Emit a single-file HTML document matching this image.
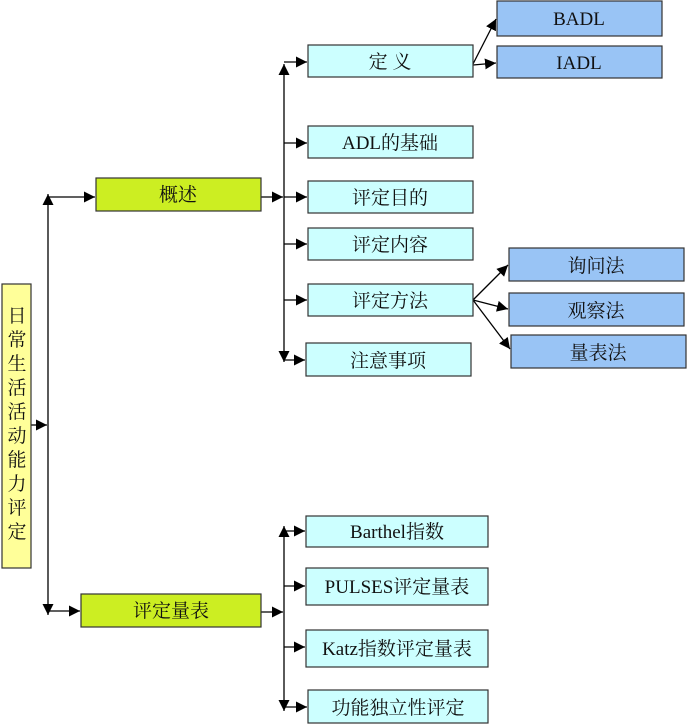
<!DOCTYPE html>
<html><head><meta charset="utf-8"><style>
html,body{margin:0;padding:0;background:#fff;}
svg{display:block;}
text{font-family:"Liberation Serif","Noto Serif CJK SC",serif;fill:#111;}
</style></head><body>
<svg width="687" height="725" viewBox="0 0 687 725" xmlns="http://www.w3.org/2000/svg">
<defs>
<marker id="a" viewBox="0 0 10 10" refX="10" refY="5" markerWidth="11" markerHeight="11" markerUnits="userSpaceOnUse" orient="auto"><path d="M0,0 L10,5 L0,10 z" fill="#000"/></marker>
</defs>
<g stroke="#000" stroke-width="1.3" fill="none">
<line x1="48" y1="425" x2="48" y2="194" marker-end="url(#a)"/>
<line x1="48" y1="425" x2="48" y2="615" marker-end="url(#a)"/>
<line x1="31" y1="425" x2="47" y2="425" marker-end="url(#a)"/>
<line x1="48" y1="197" x2="95" y2="197" marker-end="url(#a)"/>
<line x1="48" y1="611" x2="80" y2="611" marker-end="url(#a)"/>
<line x1="261" y1="197" x2="283" y2="197" marker-end="url(#a)"/>
<line x1="284" y1="197" x2="284" y2="64" marker-end="url(#a)"/>
<line x1="284" y1="197" x2="284" y2="362" marker-end="url(#a)"/>
<line x1="284" y1="62" x2="307" y2="62" marker-end="url(#a)"/>
<line x1="284" y1="143" x2="307" y2="143" marker-end="url(#a)"/>
<line x1="284" y1="197" x2="307" y2="197" marker-end="url(#a)"/>
<line x1="284" y1="244" x2="307" y2="244" marker-end="url(#a)"/>
<line x1="284" y1="300" x2="307" y2="300" marker-end="url(#a)"/>
<line x1="284" y1="360" x2="305" y2="360" marker-end="url(#a)"/>
<line x1="473" y1="64" x2="496" y2="19" marker-end="url(#a)"/>
<line x1="473" y1="65" x2="496" y2="63" marker-end="url(#a)"/>
<line x1="473" y1="300" x2="508" y2="265" marker-end="url(#a)"/>
<line x1="473" y1="300" x2="508" y2="309" marker-end="url(#a)"/>
<line x1="473" y1="300" x2="510" y2="349" marker-end="url(#a)"/>
<line x1="261" y1="612" x2="283" y2="612" marker-end="url(#a)"/>
<line x1="284" y1="612" x2="284" y2="526" marker-end="url(#a)"/>
<line x1="284" y1="612" x2="284" y2="711" marker-end="url(#a)"/>
<line x1="284" y1="531" x2="305" y2="531" marker-end="url(#a)"/>
<line x1="284" y1="586" x2="305" y2="586" marker-end="url(#a)"/>
<line x1="284" y1="647" x2="305" y2="647" marker-end="url(#a)"/>
<line x1="284" y1="707" x2="307" y2="707" marker-end="url(#a)"/>
</g>
<g stroke="#333" stroke-width="1.2">
<rect x="2" y="284" width="29" height="284" fill="#ffff99"/>
<rect x="96" y="178" width="165" height="33" fill="#ccee22"/>
<rect x="81" y="594" width="180" height="33" fill="#ccee22"/>
<g fill="#ccffff">
<rect x="308" y="45" width="165" height="32"/>
<rect x="308" y="126" width="165" height="32"/>
<rect x="308" y="181" width="165" height="32"/>
<rect x="308" y="228" width="165" height="32"/>
<rect x="308" y="284" width="165" height="32"/>
<rect x="306" y="343" width="165" height="33"/>
<rect x="306" y="516" width="182" height="31"/>
<rect x="306" y="568" width="182" height="37"/>
<rect x="306" y="630" width="182" height="37"/>
<rect x="308" y="690" width="180" height="33"/>
</g>
<g fill="#99c4f5">
<rect x="497" y="1" width="165" height="35"/>
<rect x="497" y="46" width="165" height="32"/>
<rect x="509" y="248" width="175" height="33"/>
<rect x="509" y="293" width="175" height="33"/>
<rect x="511" y="335" width="175" height="33"/>
</g>
</g>
<g font-size="19" text-anchor="middle">
<text x="17" y="322">日</text>
<text x="17" y="346">常</text>
<text x="17" y="370">生</text>
<text x="17" y="394">活</text>
<text x="17" y="418">活</text>
<text x="17" y="442">动</text>
<text x="17" y="466">能</text>
<text x="17" y="490">力</text>
<text x="17" y="514">评</text>
<text x="17" y="538">定</text>
<text x="178" y="201">概述</text>
<text x="171" y="617">评定量表</text>
<text x="390" y="68">定 义</text>
<text x="390" y="149">ADL的基础</text>
<text x="390" y="204">评定目的</text>
<text x="390" y="251">评定内容</text>
<text x="390" y="307">评定方法</text>
<text x="388" y="367">注意事项</text>
<text x="579" y="25">BADL</text>
<text x="579" y="69">IADL</text>
<text x="596" y="272">询问法</text>
<text x="596" y="317">观察法</text>
<text x="598" y="359">量表法</text>
<text x="397" y="538">Barthel指数</text>
<text x="397" y="593">PULSES评定量表</text>
<text x="397" y="655">Katz指数评定量表</text>
<text x="398" y="714">功能独立性评定</text>
</g>
</svg>
</body></html>
